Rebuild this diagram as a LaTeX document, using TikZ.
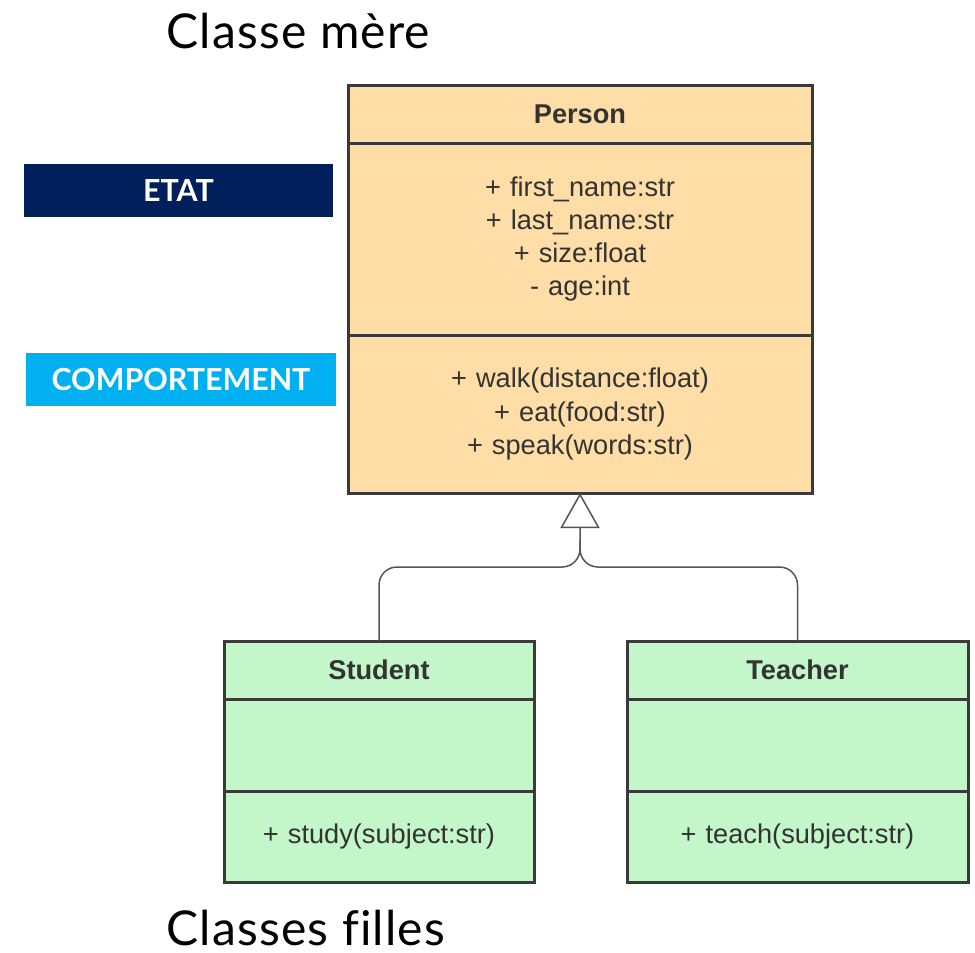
\documentclass[tikz,border=0pt]{standalone}
\usepackage{fontspec}
\setmainfont{Liberation Sans}
\newfontfamily\titrefont[Ligatures=NoCommon, LetterSpace=2.5]{Lato}
\newfontfamily\etiquettefont{Lato}
\usepackage{xcolor}
\usepackage{tikz}
\usetikzlibrary{arrows.meta, positioning}
\definecolor{bordure}{HTML}{3A3A3A}
\definecolor{texte}{HTML}{333333}
\definecolor{lien}{HTML}{555555}
\definecolor{orangeclair}{HTML}{FEDDA6}
\definecolor{vertclair}{HTML}{C3F6C8}
\definecolor{marine}{HTML}{001F5B}
\definecolor{ciel}{HTML}{00B0F0}

\tikzset{
  case/.style={draw=bordure, line width=1.5pt, outer sep=0pt, inner sep=0pt,
    align=center, text=texte, font=\fontsize{13.6}{16.6}\selectfont},
  entete/.style={font=\bfseries\fontsize{13.6}{16.6}\selectfont, minimum height=29pt},
  mere/.style={case, fill=orangeclair, text width=232pt},
  fille/.style={case, fill=vertclair},
  etiquette/.style={inner sep=0pt, minimum height=26.5pt, text=white,
    font=\etiquettefont\bfseries\fontsize{15.2}{17}\selectfont},
  titre/.style={anchor=base west, inner sep=0pt, text=black,
    font=\titrefont\fontsize{24}{28}\selectfont},
  heritage/.style={draw=lien, line width=0.75pt, rounded corners=9pt}
}

\begin{document}
\begin{tikzpicture}[x=0.5pt, y=-0.5pt]
    \useasboundingbox (0,0) rectangle (975,953);
    % Classe mere
    \node[mere, entete, anchor=north] (person) at (580,85) {Person};
    \node[mere, minimum height=96pt, below=0pt of person] (personattr)
      {+ first\_name:str\\ + last\_name:str\\ + size:float\\ - age:int};
    \node[mere, minimum height=79pt, below=0pt of personattr] (personmeth)
      {+ walk(distance:float)\\ + eat(food:str)\\ + speak(words:str)};
    % Classes filles : nom, titre, x, largeur, methode
    \foreach \nom/\titre/\x/\l/\meth in {
      student/Student/379/155/{+ study(subject:str)},
      teacher/Teacher/797.5/170.5/{+ teach(subject:str)}} {
      \node[fille, entete, text width=\l pt, anchor=north] (\nom) at (\x,641) {\titre};
      \node[fille, text width=\l pt, minimum height=46pt, below=0pt of \nom] (\nom vide) {};
      \node[fille, text width=\l pt, minimum height=45.5pt, below=0pt of \nom vide] (\nom meth) {\meth};
    }
    % Etiquettes
    \node[etiquette, fill=marine, minimum width=154.5pt] (etat) at (178.5,190.5) {ETAT};
    \node[etiquette, fill=ciel, minimum width=155pt] (comportement) at (181,379.5) {COMPORTEMENT};
    % Heritage
    \coordinate (jonction) at (580,567);
    \coordinate (haut) at (580,540);
    \draw[heritage, -{Triangle[open, length=17.5pt, width=19.5pt]}] (student.north) |- (jonction) -- (personmeth.south);
    \draw[heritage] (teacher.north) |- (jonction) -- (haut);
    % Titres
    \node[titre] (mere) at (166,48) {Classe mère};
    \node[titre] (filles) at (166,945) {Classes filles};
  \end{tikzpicture}
\end{document}
